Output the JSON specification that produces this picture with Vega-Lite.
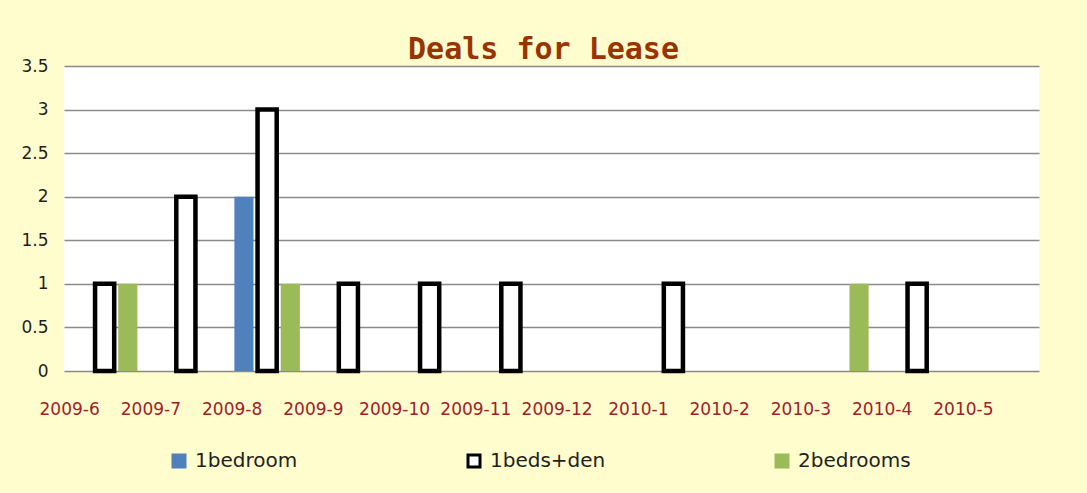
{
  "$schema": "https://vega.github.io/schema/vega-lite/v6.json",
  "width": 975,
  "height": 305,
  "autosize": {"type": "none"},
  "padding": {"left": 64, "top": 66, "right": 48, "bottom": 122},
  "background": "#FFFDCD",
  "title": {
    "text": "Deals for Lease",
    "font": "DejaVu Sans Mono",
    "fontSize": 30,
    "fontWeight": "bold",
    "color": "#993300",
    "baseline": "alphabetic",
    "offset": 7,
    "dx": -8,
    "dy": 39
  },
  "data": {
    "values": [
      {"month": "2009-6", "type": "1beds+den", "deals": 1},
      {"month": "2009-6", "type": "2bedrooms", "deals": 1},
      {"month": "2009-7", "type": "1beds+den", "deals": 2},
      {"month": "2009-8", "type": "1bedroom", "deals": 2},
      {"month": "2009-8", "type": "1beds+den", "deals": 3},
      {"month": "2009-8", "type": "2bedrooms", "deals": 1},
      {"month": "2009-9", "type": "1beds+den", "deals": 1},
      {"month": "2009-10", "type": "1beds+den", "deals": 1},
      {"month": "2009-11", "type": "1beds+den", "deals": 1},
      {"month": "2010-1", "type": "1beds+den", "deals": 1},
      {"month": "2010-3", "type": "2bedrooms", "deals": 1},
      {"month": "2010-4", "type": "1beds+den", "deals": 1}
    ]
  },
  "mark": {"type": "bar"},
  "encoding": {
    "x": {
      "field": "month",
      "type": "nominal",
      "sort": null,
      "scale": {
        "domain": ["2009-6", "2009-7", "2009-8", "2009-9", "2009-10", "2009-11", "2009-12", "2010-1", "2010-2", "2010-3", "2010-4", "2010-5"],
        "paddingInner": 0.194,
        "paddingOuter": 0.097
      },
      "axis": {
        "title": null,
        "labelAngle": 0,
        "labelOffset": -35,
        "labelFont": "DejaVu Sans",
        "labelFontSize": 17,
        "labelColor": "#A0202A",
        "labelPadding": 30,
        "labelBaseline": "top",
        "labelOverlap": false,
        "domain": false,
        "ticks": false,
        "grid": false
      }
    },
    "xOffset": {
      "field": "type",
      "type": "nominal",
      "scale": {"domain": ["1bedroom", "1beds+den", "2bedrooms"], "paddingInner": 0.174, "paddingOuter": 0}
    },
    "y": {
      "field": "deals",
      "type": "quantitative",
      "scale": {"domain": [0, 3.5], "nice": false},
      "axis": {
        "title": null,
        "values": [0, 0.5, 1, 1.5, 2, 2.5, 3, 3.5],
        "format": "~g",
        "labelFont": "DejaVu Sans",
        "labelFontSize": 17,
        "labelColor": "#1F1F1F",
        "labelPadding": 16,
        "domain": false,
        "ticks": false,
        "grid": true,
        "gridColor": "#8A8A8A",
        "gridWidth": 1.5
      }
    },
    "fill": {
      "field": "type",
      "type": "nominal",
      "scale": {"domain": ["1bedroom", "1beds+den", "2bedrooms"], "range": ["#4F81BD", "#FFFFFF", "#9BBB59"]},
      "legend": {
        "title": null,
        "orient": "none",
        "direction": "horizontal",
        "legendX": 105,
        "legendY": 385,
        "symbolType": "square",
        "symbolSize": 144,
        "symbolStrokeWidth": 3,
        "labelFont": "DejaVu Sans",
        "labelFontSize": 20,
        "labelColor": "#1F1F1F",
        "labelOffset": 6,
        "columnPadding": 164
      }
    },
    "stroke": {
      "field": "type",
      "type": "nominal",
      "scale": {"domain": ["1bedroom", "1beds+den", "2bedrooms"], "range": ["#4F81BD", "#000000", "#9BBB59"]}
    },
    "strokeWidth": {
      "condition": {"test": "datum.type === '1beds+den'", "value": 4.5},
      "value": 0
    }
  },
  "config": {
    "view": {"fill": "#FFFFFF", "stroke": null}
  }
}
